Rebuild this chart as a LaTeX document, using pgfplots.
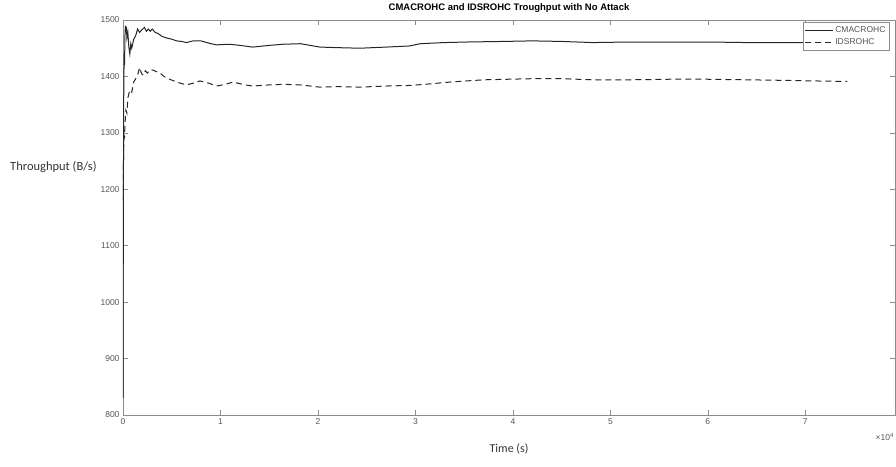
\documentclass[border=0pt]{standalone}
\usepackage{pgfplots}
\pgfplotsset{compat=1.18}
\usepackage{fontspec}
\setmainfont{Liberation Sans}
\newfontfamily\labelfont{Carlito}
\definecolor{axgray}{HTML}{8C8C8C}
\definecolor{ticktext}{HTML}{555555}
\definecolor{lineblk}{HTML}{262626}

\begin{document}
\begin{tikzpicture}
\useasboundingbox (-123pt,-51pt) rectangle (773pt,415pt);
\begin{axis}[
  name=ax,
  scale only axis,
  width=772pt,
  height=395pt,
  xmin=0, xmax=7.92,
  ymin=800, ymax=1500,
  xtick={0,1,2,3,4,5,6,7},
  ytick={800,900,1000,1100,1200,1300,1400,1500},
  tick align=inside,
  major tick length=5pt,
  tick style={axgray, line width=0.6pt},
  axis line style={axgray, line width=0.8pt},
  tick label style={font=\fontsize{8.5}{10}\selectfont, text=ticktext},
  /pgf/number format/assume math mode=true,
  /pgf/number format/1000 sep={},
  xlabel={\labelfont\fontsize{12}{14}\selectfont Time (s)},
  xlabel style={at={(0.5,0)}, anchor=north, yshift=-25pt, text=black!80},
  legend style={at={(0.993,0.995)}, anchor=north east, draw=axgray, fill=white,
    font=\fontsize{8.5}{10}\selectfont, text=ticktext, inner sep=2pt, row sep=1pt},
  legend cell align=left,
  legend image code/.code={\draw[#1] (0pt,0pt) -- (28pt,0pt);},
  legend image post style={line width=0.6pt},
]
\addplot[lineblk, line width=1pt] coordinates {
(0,830) (0.004,1200) (0.008,1380) (0.012,1440) (0.016,1420) (0.02,1472) (0.025,1490) (0.03,1478)
(0.035,1488) (0.04,1468) (0.05,1478) (0.06,1452) (0.07,1440) (0.08,1458) (0.09,1450)
(0.11,1466) (0.13,1472) (0.15,1484) (0.17,1478) (0.19,1482) (0.22,1487) (0.24,1480)
(0.26,1484) (0.28,1480) (0.3,1484) (0.33,1478) (0.36,1476) (0.4,1471) (0.45,1468)
(0.5,1466) (0.55,1463) (0.6,1462) (0.65,1460) (0.72,1463) (0.8,1463) (0.9,1458)
(0.96,1456) (1.1,1457) (1.2,1455) (1.33,1452) (1.5,1455) (1.64,1457) (1.82,1458)
(2.02,1452) (2.2,1451) (2.43,1450) (2.7,1452) (2.94,1454) (3.05,1458) (3.3,1460)
(3.53,1461) (3.9,1462) (4.2,1463) (4.5,1462) (4.82,1460) (5.2,1461) (5.6,1461)
(6.0,1461) (6.4,1460) (6.8,1460) (7.1,1460) (7.43,1460)
};
\addlegendentry{CMACROHC}
\addplot[lineblk, line width=1pt, dash pattern=on 6pt off 4pt] coordinates {
(0,1180) (0.005,1250) (0.01,1300) (0.015,1290) (0.02,1315) (0.03,1340) (0.04,1335)
(0.05,1362) (0.07,1376) (0.09,1372) (0.11,1390) (0.13,1396) (0.15,1402) (0.17,1416)
(0.19,1405) (0.21,1402) (0.23,1410) (0.25,1406) (0.28,1412) (0.31,1411) (0.35,1408)
(0.38,1406) (0.42,1400) (0.45,1397) (0.55,1390) (0.65,1385) (0.72,1388) (0.79,1392)
(0.88,1388) (0.96,1383) (1.05,1386) (1.13,1390) (1.25,1385) (1.33,1383) (1.5,1385)
(1.65,1386) (1.82,1385) (2.02,1381) (2.2,1382) (2.43,1381) (2.7,1383) (2.94,1384)
(3.1,1386) (3.35,1390) (3.7,1394) (4.2,1396) (4.5,1396) (4.82,1394) (5.2,1394)
(5.6,1395) (6.0,1395) (6.4,1394) (6.8,1393) (7.1,1392) (7.43,1391)
};
\addlegendentry{IDSROHC}
\end{axis}
\node[font=\fontsize{9.5}{11}\selectfont\bfseries, inner sep=0pt]
  at ([yshift=12pt]ax.north) {CMACROHC and IDSROHC Troughput with No Attack};
\node[anchor=east, font=\fontsize{8.5}{10}\selectfont, text=ticktext, inner sep=0pt]
  at ([xshift=-1pt, yshift=-22pt]ax.south east) {×10\textsuperscript{4}};
\node[anchor=west, inner sep=0pt, text=black!80, font=\labelfont\fontsize{12.5}{14}\selectfont]
  at ([xshift=-113pt, yshift=248pt]ax.south west) {Throughput (B/s)};
\end{tikzpicture}
\end{document}
